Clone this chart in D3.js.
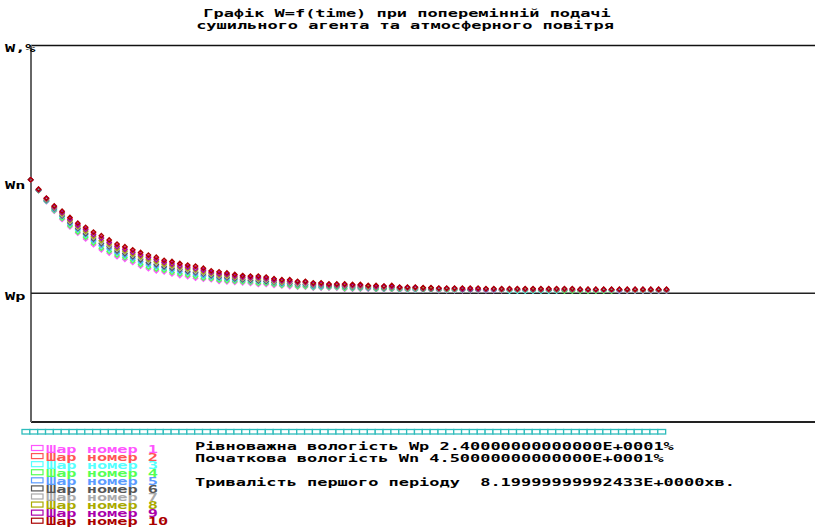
<!DOCTYPE html>
<html>
<head>
<meta charset="utf-8">
<script src="https://cdnjs.cloudflare.com/ajax/libs/d3/7.8.5/d3.min.js"></script>
<style>
	body{margin:0;background:#fff;}
	svg{display:block;}
	.txt{font-family:"DejaVu Sans Mono",monospace;font-weight:bold;font-size:11px;white-space:pre;}
</style>
</head>
<body>
<div id="chart"></div>
<script>

//data
const Wp = 24;
const Wn = 45;

const layerNames = ["Шар номер 1","Шар номер 2","Шар номер 3","Шар номер 4","Шар номер 5",
	"Шар номер 6","Шар номер 7","Шар номер 8","Шар номер 9","Шар номер 10"];

const titleLines = ["Графік W=f(time) при поперемінній подачі",
	"сушильного агента та атмосферного повітря"];

const infoLines = ["Рівноважна вологість Wp 2.40000000000000E+0001%",
	"Початкова вологість Wn 4.50000000000000E+0001%",
	"Тривалість першого періоду  8.19999999992433E+0000хв."];

//moisture of each layer, one value per time step
const layer1 = [45.7,43.6,41.5,39.7,38.1,36.7,35.5,34.4,33.3,32.3,31.7,31.0,30.5,29.9,29.2,28.7,28.3,28.1,27.7,27.4,
	27.2,26.9,26.7,26.6,26.3,26.2,26.1,26.0,25.9,25.7,25.7,25.5,25.4,25.3,25.2,25.2,25.0,25.0,25.0,25.0,
	24.8,24.8,24.8,24.8,24.7,24.7,24.7,24.6,24.6,24.6,24.6,24.6,
	24.5,24.5,24.5,24.5,24.5,24.5,24.5,24.5,24.5,24.6,24.6,24.6,24.6,24.6,24.6,24.6,24.6,24.6,24.6,24.6,
	24.6,24.6,24.6,24.4,24.4,24.4,24.4,24.4,24.4,24.4];
const layer2 = [45.7,43.9,42.1,40.6,39.5,38.3,37.2,36.4,35.5,34.7,34.0,33.2,32.7,32.1,31.5,31.0,30.6,30.1,29.9,29.5,
	29.2,29.0,28.6,28.1,27.9,27.7,27.5,27.3,27.2,27.1,27.0,26.7,26.5,26.5,26.2,26.2,25.9,25.9,25.7,25.7,
	25.7,25.6,25.6,25.4,25.4,25.3,25.4,25.1,25.1,25.1,25.0,25.0,
	24.9,24.9,24.9,24.9,24.8,24.8,24.6,24.6,24.6,24.8,24.8,24.8,24.8,24.8,24.8,24.8,24.7,24.7,24.7,24.7,
	24.7,24.7,24.7,24.7,24.7,24.7,24.7,24.7,24.7,24.7];
const layer3 = [45.7,43.7,41.6,39.9,38.5,37.1,36.0,34.9,33.9,33.0,32.3,31.6,31.1,30.5,29.8,29.3,28.9,28.6,28.3,27.9,
	27.7,27.4,27.2,27.0,26.7,26.6,26.5,26.3,26.2,26.1,26.0,25.8,25.7,25.6,25.5,25.5,25.2,25.2,25.2,25.2,
	25.0,25.0,25.0,25.0,24.9,24.9,24.9,24.7,24.7,24.7,24.7,24.7,
	24.7,24.6,24.6,24.6,24.6,24.6,24.6,24.6,24.6,24.4,24.4,24.4,24.4,24.4,24.4,24.4,24.5,24.5,24.5,24.5,
	24.5,24.5,24.5,24.5,24.5,24.5,24.5,24.5,24.5,24.5];
const layer4 = [45.7,43.6,41.6,39.8,38.3,36.9,35.7,34.7,33.6,32.6,32.0,31.3,30.8,30.2,29.5,29.0,28.6,28.4,28.0,27.7,
	27.5,27.2,26.9,26.8,26.5,26.4,26.3,26.2,26.1,25.9,25.9,25.7,25.5,25.5,25.3,25.3,25.1,25.1,25.1,25.1,
	24.9,24.9,24.9,24.9,24.8,24.8,24.8,24.7,24.7,24.7,24.7,24.7,
	24.6,24.6,24.6,24.6,24.6,24.6,24.6,24.6,24.6,24.6,24.6,24.6,24.6,24.6,24.6,24.6,24.4,24.4,24.4,24.4,
	24.4,24.4,24.4,24.5,24.5,24.5,24.5,24.5,24.5,24.5];
const layer5 = [45.7,43.7,41.7,40.0,38.7,37.3,36.2,35.2,34.1,33.2,32.6,31.8,31.3,30.7,30.1,29.6,29.2,28.9,28.5,28.2,
	28.0,27.7,27.4,27.2,26.9,26.8,26.6,26.5,26.4,26.3,26.2,26.0,25.8,25.8,25.6,25.6,25.3,25.3,25.3,25.3,
	25.2,25.1,25.1,25.0,25.0,24.9,25.0,24.8,24.8,24.8,24.8,24.8,
	24.7,24.7,24.7,24.7,24.7,24.7,24.6,24.6,24.6,24.6,24.6,24.6,24.6,24.6,24.6,24.6,24.6,24.6,24.6,24.6,
	24.6,24.6,24.6,24.5,24.5,24.5,24.5,24.5,24.5,24.5];
const layer6 = [45.7,43.7,41.8,40.2,38.8,37.5,36.4,35.4,34.4,33.5,32.9,32.1,31.6,31.0,30.4,29.9,29.5,29.1,28.8,28.5,
	28.2,28.0,27.7,27.4,27.1,27.0,26.8,26.6,26.5,26.4,26.3,26.1,26.0,25.9,25.7,25.7,25.5,25.5,25.4,25.4,
	25.3,25.2,25.2,25.1,25.1,25.0,25.1,24.9,24.9,24.9,24.8,24.8,
	24.8,24.8,24.8,24.7,24.7,24.7,24.7,24.7,24.7,24.7,24.7,24.7,24.6,24.6,24.6,24.6,24.6,24.6,24.6,24.6,
	24.6,24.6,24.6,24.6,24.6,24.6,24.6,24.6,24.6,24.6];
const layer7 = [45.7,43.8,41.9,40.3,39.0,37.7,36.6,35.7,34.7,33.8,33.1,32.4,31.9,31.3,30.7,30.2,29.8,29.4,29.1,28.7,
	28.5,28.2,27.9,27.6,27.3,27.2,27.0,26.8,26.7,26.6,26.5,26.2,26.1,26.0,25.8,25.8,25.6,25.6,25.5,25.5,
	25.4,25.3,25.3,25.2,25.2,25.1,25.2,24.9,24.9,24.9,24.9,24.9,
	24.8,24.8,24.8,24.8,24.8,24.7,24.7,24.7,24.7,24.7,24.7,24.7,24.7,24.7,24.7,24.7,24.7,24.7,24.6,24.6,
	24.6,24.6,24.6,24.6,24.6,24.6,24.6,24.6,24.6,24.6];
const layer8 = [45.7,43.8,42.0,40.4,39.2,37.9,36.8,35.9,34.9,34.1,33.4,32.6,32.1,31.5,31.0,30.5,30.1,29.6,29.3,29.0,
	28.7,28.5,28.1,27.8,27.5,27.4,27.1,27.0,26.9,26.8,26.7,26.4,26.2,26.2,26.0,26.0,25.7,25.7,25.5,25.5,
	25.5,25.4,25.4,25.3,25.2,25.2,25.2,25.0,25.0,25.0,24.9,24.9,
	24.9,24.8,24.8,24.8,24.8,24.8,24.8,24.8,24.7,24.7,24.7,24.7,24.7,24.7,24.7,24.7,24.7,24.7,24.7,24.7,
	24.7,24.7,24.7,24.7,24.6,24.6,24.6,24.6,24.6,24.6];
const layer9 = [45.7,43.8,42.1,40.5,39.4,38.1,37.0,36.2,35.2,34.5,33.7,32.9,32.4,31.8,31.3,30.8,30.4,29.9,29.6,29.2,
	29.0,28.7,28.4,28.0,27.7,27.6,27.3,27.1,27.0,27.0,26.8,26.5,26.4,26.3,26.1,26.1,25.8,25.8,25.6,25.6,
	25.6,25.5,25.5,25.4,25.3,25.3,25.3,25.1,25.1,25.1,25.0,25.0,
	24.9,24.9,24.9,24.8,24.8,24.8,24.8,24.8,24.8,24.8,24.8,24.8,24.8,24.8,24.8,24.8,24.8,24.8,24.7,24.7,
	24.7,24.7,24.7,24.7,24.7,24.7,24.7,24.7,24.7,24.7];
const layer10 = [45.7,43.9,42.2,40.7,39.7,38.5,37.4,36.6,35.7,35.0,34.2,33.4,32.9,32.3,31.8,31.3,30.9,30.3,30.1,29.7,
	29.4,29.2,28.8,28.3,28.1,27.9,27.6,27.4,27.3,27.3,27.1,26.8,26.6,26.6,26.3,26.3,26.0,26.0,25.8,25.8,
	25.8,25.7,25.7,25.5,25.5,25.4,25.5,25.2,25.2,25.2,25.1,25.1,
	25.0,25.0,25.0,25.0,25.0,25.0,24.9,24.9,24.9,24.9,24.9,24.9,24.9,24.9,24.9,24.9,24.9,24.9,24.8,24.8,
	24.8,24.8,24.8,24.8,24.8,24.8,24.8,24.8,24.8,24.8];

const layers = [layer1,layer2,layer3,layer4,layer5,layer6,layer7,layer8,layer9,layer10];

//BGI like colours
const color = ["#ff55ff","#ff5555","#55ffff","#55ff55","#5a9bff",
	"#555555","#aaaaaa","#aaaa00","#aa00aa","#aa0000"];


function graph(){

	//sizing
	let width = 815;
	let height = 528;
	let frame = {left:31, top:45, right:815, bottom:422};

	let svg = d3.select("#chart")
		.append("svg")
		.attr("width", width)
		.attr("height", height);

	//scales
	const nSteps = layer1.length;
	const xScale = d3.scaleLinear()
		.domain([0, nSteps-1])
		.range([30.7, 666.5]);

	const yScale = d3.scaleLinear()
		.domain([0, 72])
		.range([419, 42]);

	//wide bitmap-like text
	function addText(x, y, str, fill, anchor){
		return svg.append("text")
			.attr("class", "txt")
			.attr("xml:space", "preserve")
			.attr("transform", `translate(${x},${y}) scale(1.54,1)`)
			.attr("fill", fill || "#000")
			.style("text-anchor", anchor || "start")
			.text(str);
	}

	//title
	addText(407, 17, titleLines[0], "#000", "middle");
	addText(405, 29, titleLines[1], "#000", "middle");

	//frame
	svg.append("line")
		.attr("x1", frame.left).attr("x2", frame.right)
		.attr("y1", frame.top+0.5).attr("y2", frame.top+0.5)
		.attr("stroke", "#111").attr("stroke-width", 1.5);

	svg.append("line")
		.attr("x1", frame.left).attr("x2", frame.right)
		.attr("y1", frame.bottom).attr("y2", frame.bottom)
		.attr("stroke", "#222").attr("stroke-width", 1.8);

	svg.append("line")
		.attr("x1", frame.left).attr("x2", frame.left)
		.attr("y1", frame.top).attr("y2", frame.bottom)
		.attr("stroke", "#666").attr("stroke-width", 2);

	//Wp line
	svg.append("line")
		.attr("x1", frame.left).attr("x2", frame.right)
		.attr("y1", yScale(Wp)).attr("y2", yScale(Wp))
		.attr("stroke", "#222").attr("stroke-width", 1.5);

	//axis labels
	addText(5, 52, "W,%");
	addText(5, yScale(Wn)+5.5, "Wn");
	addText(5, yScale(Wp)+6.5, "Wp");

	//points
	const marker = "M0,-2.2L2.2,0L0,2.2L-2.2,0Z";

	layers.forEach((values, k)=>{
		svg.append("g")
			.attr("class", "layer")
			.selectAll("path")
			.data(values)
			.enter()
			.append("path")
			.attr("d", marker)
			.attr("transform", (d,i)=>`translate(${xScale(i)},${yScale(d)})`)
			.attr("fill", "none")
			.attr("stroke", color[k])
			.attr("stroke-width", 1.3);
	});

	//cyan strip under the frame
	let step = xScale(1)-xScale(0);
	svg.append("g")
		.selectAll("rect")
		.data(layer1)
		.enter()
		.append("rect")
		.attr("x", (d,i)=>xScale(i)-8.7)
		.attr("y", 429.5)
		.attr("width", step)
		.attr("height", 4.5)
		.attr("fill", "#fff")
		.attr("stroke", "#2ebcbc")
		.attr("stroke-width", 1.3);

	//legend
	let legend = svg.selectAll(".legend")
		.data(layerNames)
		.enter()
		.append("g")
		.attr("class", "legend");

	legend.append("rect")
		.attr("x", 31.5)
		.attr("y", (d,i)=>445.5 + i*8.08)
		.attr("width", 11.5)
		.attr("height", 5)
		.attr("fill", "none")
		.attr("stroke", (d,i)=>color[i])
		.attr("stroke-width", 1.2);

	legend.each(function(d,i){
		addText(46, 452.5 + i*8.08, d, color[i]);
	});

	//info text
	addText(195, 450, infoLines[0]);
	addText(195, 462, infoLines[1]);
	addText(195, 486, infoLines[2]);

} //function graph

graph();
</script>
</body>
</html>
